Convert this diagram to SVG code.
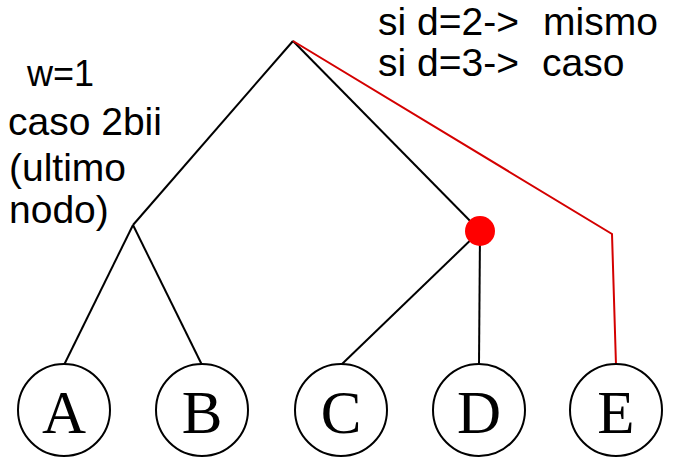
<svg xmlns="http://www.w3.org/2000/svg" width="682" height="476" viewBox="0 0 682 476">
<style>
.lbl{font-family:"Liberation Sans",Arial,sans-serif;font-size:39px;fill:#000}
.node ellipse{fill:#fff;stroke:#000;stroke-width:2}
.node text{font-family:"Liberation Serif","Times New Roman",serif;font-size:61px;fill:#000;text-anchor:middle}
.edge{stroke:#000;stroke-width:2;fill:none}
.red{stroke:#d40000;stroke-width:2;fill:none}
</style>
<rect width="682" height="476" fill="#fff"/>
<g id="connectors">
<line class="edge" x1="293" y1="41" x2="133" y2="225"/>
<line class="edge" x1="293" y1="41" x2="480" y2="231"/>
<line class="edge" x1="133" y1="225" x2="64" y2="365"/>
<line class="edge" x1="133" y1="225" x2="202" y2="365"/>
<line class="edge" x1="480" y1="231" x2="341" y2="365"/>
<line class="edge" x1="480" y1="231" x2="479" y2="365"/>
<polyline class="red" points="293,41 612,234 616,365"/>
</g>
<g id="inner"><circle cx="480" cy="231" r="15" fill="#ff0000"/></g>
<g id="nodeA" class="node"><ellipse cx="64" cy="410" rx="46" ry="46"/><text x="64" y="433">A</text></g>
<g id="nodeB" class="node"><ellipse cx="202" cy="410" rx="46" ry="46"/><text x="202" y="433">B</text></g>
<g id="nodeC" class="node"><ellipse cx="341" cy="410" rx="46" ry="46"/><text x="341" y="433">C</text></g>
<g id="nodeD" class="node"><ellipse cx="479" cy="410" rx="46" ry="46"/><text x="479" y="433">D</text></g>
<g id="nodeE" class="node"><ellipse cx="616" cy="410" rx="46" ry="46"/><text x="616" y="433">E</text></g>
<g id="labels">
<text class="lbl" x="27" y="86" style="font-size:36px">w=1</text>
<text class="lbl" x="8" y="135">caso 2bii</text>
<text class="lbl" x="9" y="181">(ultimo</text>
<text class="lbl" x="9" y="223">nodo)</text>
<text class="lbl" x="378" y="35">si d=2-&gt;</text>
<text class="lbl" x="543" y="35">mismo</text>
<text class="lbl" x="378" y="76">si d=3-&gt;</text>
<text class="lbl" x="542" y="76">caso</text>
</g>
</svg>
